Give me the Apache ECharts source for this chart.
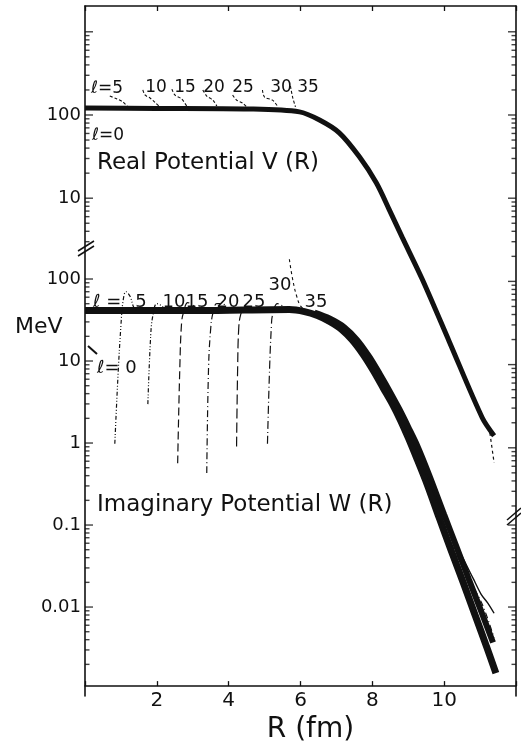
<!DOCTYPE html>
<html>
<head>
<meta charset="utf-8">
<script src="https://cdn.jsdelivr.net/npm/echarts@6/dist/echarts.min.js"></script>
<style>
  html, body { margin: 0; padding: 0; background: #fff; }
  #chart { width: 521px; height: 749px; }
</style>
</head>
<body>
<div id="chart"></div>
<script>
// values: R in fm, potential in MeV
var realMain = [[0, 121], [2, 120], [4.58, 118], [5.97, 109], [6.53, 87], [7.08, 61], [7.64, 31.4],
    [8.11, 15.3], [8.47, 7.3], [8.83, 3.4], [9.39, 1.06], [10.14, 0.19], [11.06, 0.023], [11.39, 0.014]];
var realTail = [[11.25, 0.0178], [11.39, 0.0066]];
var vL5 = [[0.69, 169], [0.89, 156], [1.06, 143], [1.19, 125]];
var vL10 = [[1.61, 200], [1.67, 174], [1.81, 160], [1.94, 143], [2.08, 125]];
var vL15 = [[2.42, 205], [2.5, 174], [2.69, 156], [2.83, 128]];
var vL20 = [[3.28, 200], [3.39, 169], [3.56, 151], [3.67, 128]];
var vL25 = [[4.11, 174], [4.22, 151], [4.39, 139], [4.5, 125]];
var vL30 = [[4.94, 200], [5.0, 164], [5.22, 151], [5.36, 128]];
var vL35 = [[5.72, 223], [5.78, 164], [5.86, 125]];

var imagMain = [[0, 41.2], [3.19, 41.2], [5.69, 42.4], [6.11, 40.1], [6.47, 35.9], [6.81, 30.4], [7.14, 24.4],
    [7.44, 18], [7.75, 11.9], [8.03, 7.6], [8.31, 4.63], [8.56, 2.98], [8.78, 1.91], [9.0, 1.16], [9.25, 0.63],
    [9.53, 0.31], [9.86, 0.123], [10.19, 0.0495], [10.53, 0.0199], [10.86, 0.008], [11.19, 0.0032], [11.44, 0.00156]];
var imagSpread = [[6.39, 39], [6.81, 33], [7.22, 25.8], [7.58, 18], [7.92, 11.2], [8.22, 6.8], [8.5, 4.15],
    [8.75, 2.6], [9.0, 1.57], [9.25, 0.93], [9.58, 0.41], [10.0, 0.134], [10.36, 0.052], [10.69, 0.0216],
    [11.03, 0.0089], [11.36, 0.0037]];
var imagUpper = [[9.44, 0.49], [9.78, 0.215], [10.14, 0.0935], [10.47, 0.0443], [10.81, 0.0222],
    [11.03, 0.0143], [11.22, 0.0111], [11.39, 0.0084]];
var imagDashDot = [[9.72, 0.163], [10.14, 0.067], [10.58, 0.0269], [11.06, 0.0108], [11.39, 0.0042]];
var wL5 = [[0.83, 0.98], [0.92, 6.8], [1.0, 27], [1.06, 54], [1.14, 70], [1.25, 62], [1.36, 45], [1.47, 40]];
var wL10 = [[1.75, 2.98], [1.83, 20.7], [1.89, 35.9], [2.0, 50], [2.14, 47], [2.25, 41]];
var wL15 = [[2.58, 0.565], [2.64, 8.3], [2.69, 29.6], [2.75, 40], [2.86, 51.5], [3.03, 47], [3.14, 41]];
var wL20 = [[3.39, 0.43], [3.44, 8.3], [3.5, 25], [3.56, 38], [3.67, 50], [3.83, 50], [3.97, 42]];
var wL25 = [[4.22, 0.91], [4.25, 8.3], [4.28, 25], [4.33, 36], [4.44, 45], [4.58, 42]];
var wL30 = [[5.08, 0.98], [5.14, 8.3], [5.19, 27], [5.22, 36], [5.36, 50], [5.53, 46], [5.69, 41]];
var wL35 = [[5.69, 174], [5.78, 100], [5.89, 62.5], [6.0, 47], [6.14, 42]];

var xTickLabels = ['2', '4', '6', '8', '10'];
var vTickLabels = ['10', '100'];
var wTickLabels = ['0.01', '0.1', '1', '10', '100'];
var vMajorLeft = [1000, 100, 10];
var vMajorRight = [1000, 100, 10, 1, 0.1, 0.01];
var wMajorLeft = [100, 10, 1, 0.1, 0.01];
var wMajorRight = [0.1, 0.01];

var FONT = 'DejaVu Sans';
var INK = '#111';
var X_MIN = 0, X_MAX = 12;
var GRID = {left: 85, right: 5, top: 6, bottom: 53};
var PLOT_W = 521 - GRID.left - GRID.right;
// both panels share one frame; each has its own log scale
var V_MIN = Math.pow(10, -4.983), V_MAX = Math.pow(10, 3.310);
var W_MIN = Math.pow(10, -2.964), W_MAX = Math.pow(10, 5.329);

function minors(decades, lo, hi) {
    var out = [];
    decades.forEach(function(d) {
        for (var k = 2; k <= 9; k++) {
            var v = +(d * k).toPrecision(3);
            if (v >= lo && v <= hi) out.push(v);
        }
    });
    return out;
}

// log ticks as thin rect symbols anchored on the left frame edge;
// right-edge ticks are shifted across the plot width
function tickSeries(g, right, vals, len) {
    return {
        type: 'scatter', xAxisIndex: g, yAxisIndex: g === 0 ? 0 : 2,
        data: vals.map(function(v) { return [X_MIN, v]; }),
        symbol: 'rect', symbolSize: [len, 1.4],
        symbolOffset: [right ? PLOT_W - len / 2 : len / 2, 0],
        itemStyle: {color: INK}, silent: true, animation: false, clip: false, z: 6
    };
}

function curve(g, data, width, dash, smooth) {
    return {
        type: 'line', xAxisIndex: g, yAxisIndex: g === 0 ? 0 : 2, data: data,
        showSymbol: false, symbol: 'none', smooth: smooth == null ? 0.3 : smooth,
        lineStyle: {color: INK, width: width, type: dash || 'solid'},
        silent: true, animation: false, z: 3
    };
}

function labelFrom(list) {
    return function(v) {
        var s = String(+(+v).toPrecision(6));
        return list.indexOf(s) >= 0 ? s : '';
    };
}

function txt(x, y, s, size, align) {
    return {
        type: 'text', x: x, y: y, silent: true, z: 10,
        style: {text: s, font: size + 'px "' + FONT + '"', fill: INK, align: align || 'center', verticalAlign: 'middle'}
    };
}

function seg(x1, y1, x2, y2, w) {
    return {type: 'line', silent: true, z: 10, shape: {x1: x1, y1: y1, x2: x2, y2: y2}, style: {stroke: INK, lineWidth: w || 1.5}};
}

var axisLine = {show: true, lineStyle: {color: INK, width: 1.6}};
var chart = echarts.init(document.getElementById('chart'));

chart.setOption({
    backgroundColor: '#fff',
    animation: false,
    grid: [GRID, GRID],
    xAxis: [{
        gridIndex: 0, type: 'value', min: X_MIN, max: X_MAX, interval: 2, position: 'top',
        axisLine: axisLine, axisTick: {inside: true, length: 5, lineStyle: {color: INK, width: 1.3}},
        axisLabel: {show: false}, splitLine: {show: false}
    }, {
        gridIndex: 1, type: 'value', min: X_MIN, max: X_MAX, interval: 2, position: 'bottom',
        axisLine: axisLine, axisTick: {inside: true, length: 5, lineStyle: {color: INK, width: 1.3}},
        axisLabel: {
            formatter: labelFrom(xTickLabels), fontFamily: FONT, fontSize: 20, color: INK, margin: 5
        },
        splitLine: {show: false},
        name: 'R (fm)', nameLocation: 'middle', nameGap: 17,
        nameTextStyle: {fontFamily: FONT, fontSize: 28, color: INK, padding: [0, 0, 0, 20], verticalAlign: 'top'}
    }],
    yAxis: [{
        gridIndex: 0, type: 'log', min: V_MIN, max: V_MAX, position: 'left',
        axisLine: axisLine, axisTick: {show: false}, splitLine: {show: false},
        axisLabel: {formatter: labelFrom(vTickLabels), interval: 0, fontFamily: FONT, fontSize: 18, color: INK, margin: 4}
    }, {
        gridIndex: 0, type: 'log', min: V_MIN, max: V_MAX, position: 'right',
        axisLine: axisLine, axisTick: {show: false}, splitLine: {show: false}, axisLabel: {show: false}
    }, {
        gridIndex: 1, type: 'log', min: W_MIN, max: W_MAX, position: 'left',
        axisLine: {show: false}, axisTick: {show: false}, splitLine: {show: false},
        axisLabel: {formatter: labelFrom(wTickLabels), interval: 0, fontFamily: FONT, fontSize: 18, color: INK, margin: 4}
    }],
    series: [
        tickSeries(0, false, vMajorLeft, 8),
        tickSeries(0, false, minors([100, 10, 1], 3, 900), 4.5),
        tickSeries(0, true, vMajorRight, 8),
        tickSeries(0, true, minors([100, 10, 1, 0.1, 0.01, 0.001], 0.002, 900), 4.5),
        tickSeries(1, false, wMajorLeft, 8),
        tickSeries(1, false, minors([10, 1, 0.1, 0.01, 0.001], 0.002, 90), 4.5),
        tickSeries(1, true, wMajorRight, 8),
        tickSeries(1, true, minors([0.01, 0.001], 0.002, 0.09), 4.5),

        curve(0, realMain, 5),
        curve(0, realTail, 1.2, [3, 3], 0),
        curve(0, vL5, 1.1, [3, 2]),
        curve(0, vL10, 1.1, [3, 2]),
        curve(0, vL15, 1.1, [3, 2]),
        curve(0, vL20, 1.1, [3, 2]),
        curve(0, vL25, 1.1, [3, 2]),
        curve(0, vL30, 1.1, [3, 2]),
        curve(0, vL35, 1.1, [3, 2]),

        curve(1, imagMain, 7),
        curve(1, imagSpread, 6),
        curve(1, imagUpper, 1.4),
        curve(1, imagDashDot, 1.2, [6, 3, 1, 3]),
        curve(1, wL5, 1.2, [4, 2, 1, 2, 1, 2], 0.4),
        curve(1, wL10, 1.2, [4, 2, 1, 2, 1, 2], 0.4),
        curve(1, wL15, 1.2, [8, 4], 0.4),
        curve(1, wL20, 1.2, [7, 3, 1, 3], 0.4),
        curve(1, wL25, 1.2, [10, 4], 0.4),
        curve(1, wL30, 1.2, [8, 3, 1, 3], 0.4),
        curve(1, wL35, 1.1, [3, 3], 0.4)
    ],
    graphic: [
        txt(107, 89, 'ℓ=5', 17),
        txt(156, 88, '10', 17),
        txt(185, 88, '15', 17),
        txt(214, 88, '20', 17),
        txt(243, 88, '25', 17),
        txt(281, 88, '30', 17),
        txt(308, 88, '35', 17),
        txt(92, 136, 'ℓ=0', 17, 'left'),
        txt(97, 163, 'Real Potential V (R)', 23, 'left'),

        txt(93, 302, 'ℓ =', 18, 'left'),
        txt(141, 302, '5', 18),
        txt(174, 302, '10', 18),
        txt(197, 302, '15', 18),
        txt(228, 302, '20', 18),
        txt(254, 302, '25', 18),
        txt(280, 285, '30', 18),
        txt(316, 302, '35', 18),
        txt(97, 368, 'ℓ= 0', 18, 'left'),
        txt(97, 505, 'Imaginary Potential W (R)', 23, 'left'),
        txt(15, 327, 'MeV', 22, 'left'),

        seg(88, 346, 97, 354, 2),
        seg(78, 251, 94, 241),
        seg(78, 256, 94, 246),
        seg(507, 525, 521, 513),
        seg(507, 520, 521, 508)
    ]
});
</script>
</body>
</html>
